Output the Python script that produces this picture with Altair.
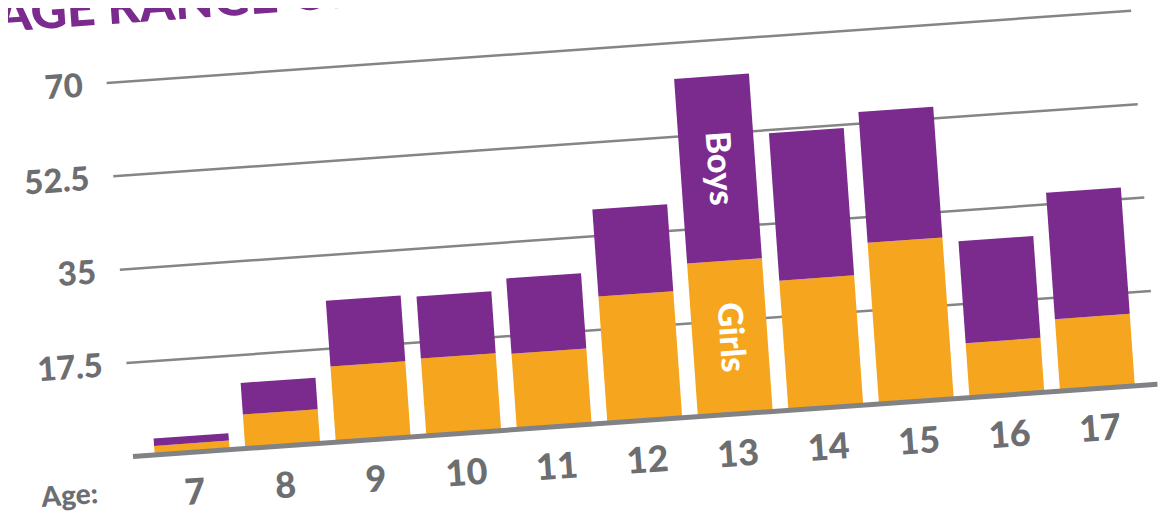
import math
import altair as alt
import pandas as pd

# ---------------- data ----------------
ages = [7, 8, 9, 10, 11, 12, 13, 14, 15, 16, 17]
girls = [1.7, 6.4, 14.2, 14.5, 14.2, 23.7, 28.7, 24.3, 30.2, 10.2, 13.5]
boys = [1.4, 5.9, 12.3, 11.6, 14.1, 16.3, 34.6, 27.6, 24.5, 19.1, 23.7]
ticks = [17.5, 35, 52.5, 70]
tick_labels = ["17.5", "35", "52.5", "70"]
segments = ["Girls", "Boys"]
seg_colors = ["#f6a51e", "#7b2a8e"]
label_bar = 13
title_text = "AGE RANGE OF CHILDREN"
axis_title = "Age:"

# ---------------- tilted-frame geometry ----------------
W, H = 1150, 508
OX, OY = 125.0, 448.5          # origin of the tilted frame in plot pixels
ANG = math.radians(4.03)       # whole chart is tilted counter-clockwise
C, S = math.cos(ANG), math.sin(ANG)
K = 5.35                       # pixels per unit of value
U0, PITCH, BAR_W = 59.3, 90.75, 75
AXIS_LEN = 1027
TEXT_ANGLE = 360 - math.degrees(ANG)

def fx(u, v):
    return f"{OX} + ({u})*{C} - ({v})*{S}"

def fy(u, v):
    return f"{OY} - ({u})*{S} - ({v})*{C}"

xs = alt.Scale(domain=[0, W], nice=False, zero=False)
ys = alt.Scale(domain=[0, H], nice=False, zero=False, reverse=True)
X = alt.X("X:Q", scale=xs, axis=None)
Y = alt.Y("Y:Q", scale=ys, axis=None)

# ---------------- tables ----------------
rows = []
for i, (a, g, b) in enumerate(zip(ages, girls, boys)):
    rows.append({"i": i, "age": a, "seg": segments[0], "lo": 0.0, "hi": g})
    rows.append({"i": i, "age": a, "seg": segments[1], "lo": g, "hi": g + b})
bars_df = pd.DataFrame(rows)
grid_df = pd.DataFrame({"value": ticks, "label": tick_labels})
base_df = pd.DataFrame({"value": [0.0]})
age_df = pd.DataFrame({"i": list(range(len(ages))), "age": [str(a) for a in ages]})
li = ages.index(label_bar)
inbar_df = pd.DataFrame({
    "i": [li, li],
    "seg": segments,
    "mid": [girls[li] / 2, girls[li] + boys[li] / 2],
})
title_df = pd.DataFrame({"t": [title_text]})
axt_df = pd.DataFrame({"t": [axis_title]})

FONT = "Lato"
GRAY = "#6d6e71"

grid = alt.Chart(grid_df).transform_calculate(
    X=fx(0, f"datum.value*{K}"), Y=fy(0, f"datum.value*{K}"),
    X2=fx(AXIS_LEN, f"datum.value*{K}"), Y2=fy(AXIS_LEN, f"datum.value*{K}"),
).mark_rule(color="#858585", strokeWidth=2.5).encode(
    x=X, y=Y, x2="X2:Q", y2="Y2:Q")

tick_text = alt.Chart(grid_df).transform_calculate(
    X=fx(-24, f"datum.value*{K} - 2"), Y=fy(-24, f"datum.value*{K} - 2"),
).mark_text(angle=TEXT_ANGLE, font=FONT, fontWeight=900, fontSize=33,
            color=GRAY, align="right", baseline="middle").encode(
    x=X, y=Y, text="label:N")

bars = alt.Chart(bars_df).transform_calculate(
    X=fx(f"{U0} + {PITCH}*datum.i", f"datum.lo*{K}"),
    Y=fy(f"{U0} + {PITCH}*datum.i", f"datum.lo*{K}"),
    X2=fx(f"{U0} + {PITCH}*datum.i", f"datum.hi*{K}"),
    Y2=fy(f"{U0} + {PITCH}*datum.i", f"datum.hi*{K}"),
).mark_rule(strokeWidth=BAR_W, strokeCap="butt").encode(
    x=X, y=Y, x2="X2:Q", y2="Y2:Q",
    color=alt.Color("seg:N", scale=alt.Scale(domain=segments, range=seg_colors), legend=None))

baseline = alt.Chart(base_df).transform_calculate(
    X=fx(0, 0), Y=fy(0, 0), X2=fx(AXIS_LEN, 0), Y2=fy(AXIS_LEN, 0),
).mark_rule(color="#818285", strokeWidth=5).encode(
    x=X, y=Y, x2="X2:Q", y2="Y2:Q")

age_text = alt.Chart(age_df).transform_calculate(
    X=fx(f"{U0} + {PITCH}*datum.i", -41), Y=fy(f"{U0} + {PITCH}*datum.i", -41),
).mark_text(angle=TEXT_ANGLE, font=FONT, fontWeight=900, fontSize=36,
            color=GRAY, align="center", baseline="middle").encode(
    x=X, y=Y, text="age:N")

axis_text = alt.Chart(axt_df).transform_calculate(
    X=fx(-66, -36), Y=fy(-66, -36),
).mark_text(angle=TEXT_ANGLE, font=FONT, fontWeight=900, fontSize=28,
            color=GRAY, align="center", baseline="middle").encode(
    x=X, y=Y, text="t:N")

inbar = alt.Chart(inbar_df).transform_calculate(
    X=fx(f"{U0} + {PITCH}*datum.i", f"datum.mid*{K}"),
    Y=fy(f"{U0} + {PITCH}*datum.i", f"datum.mid*{K}"),
).mark_text(angle=90 - math.degrees(ANG), font=FONT, fontWeight=900, fontSize=34,
            color="white", align="center", baseline="middle").encode(
    x=X, y=Y, text="seg:N")

title = alt.Chart(title_df).transform_calculate(
    X=fx(-105, 433), Y=fy(-105, 433),
).mark_text(angle=TEXT_ANGLE, font=FONT, fontWeight=900, fontSize=50,
            color="#7b2a8e", align="left", baseline="alphabetic").encode(
    x=X, y=Y, text="t:N")

chart = alt.layer(grid, tick_text, bars, baseline, age_text, axis_text, inbar, title).properties(
    width=W, height=H, autosize=alt.AutoSizeParams(type="none"), padding=0
).configure_view(stroke=None)

chart.save("out.html", embed_options={"renderer": "svg", "actions": False})
